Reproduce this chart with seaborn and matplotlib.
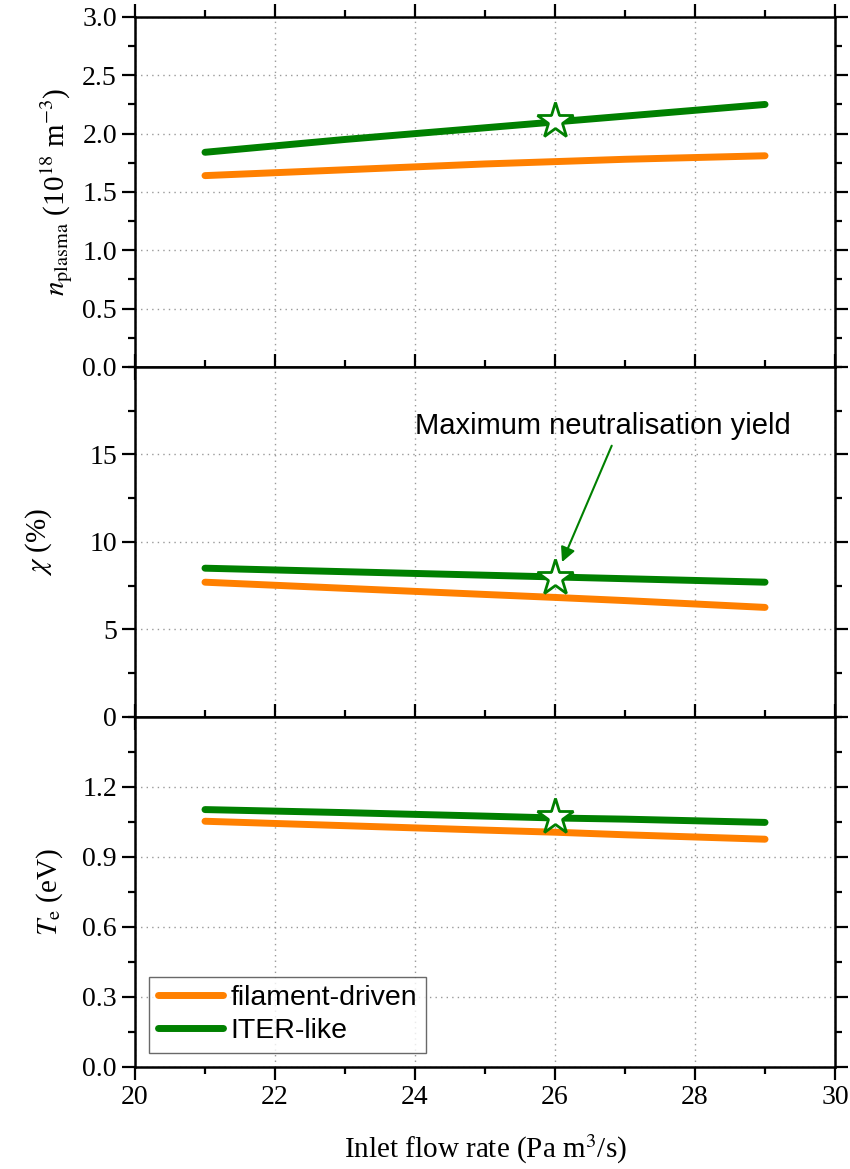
import numpy as np
import pandas as pd
import seaborn as sns
import matplotlib.pyplot as plt

# values
flow = [21, 23, 25, 26, 27, 29]
dens_fil = [1.64, 1.69, 1.74, 1.76, 1.78, 1.81]
dens_iter = [1.84, 1.95, 2.05, 2.10, 2.15, 2.25]
chi_fil = [7.70, 7.35, 7.00, 6.83, 6.65, 6.26]
chi_iter = [8.50, 8.30, 8.10, 8.00, 7.90, 7.70]
te_fil = [1.053, 1.034, 1.015, 1.006, 0.995, 0.976]
te_iter = [1.103, 1.090, 1.075, 1.067, 1.062, 1.048]
sources = ['filament-driven', 'ITER-like']
star_x = 26
star_y = [2.11, 7.95, 1.07]

sns.set_theme(style='ticks')
plt.rcParams['font.family'] = ['Liberation Serif', 'DejaVu Serif']
plt.rcParams['mathtext.fontset'] = 'stix'
plt.rcParams['text.color'] = 'black'
plt.rcParams['axes.labelcolor'] = 'black'

df = pd.DataFrame({
    'flow': flow * 2,
    'source': [sources[0]] * len(flow) + [sources[1]] * len(flow),
    'dens': dens_fil + dens_iter,
    'chi': chi_fil + chi_iter,
    'te': te_fil + te_iter,
})
pal = {'filament-driven': '#FF8000', 'ITER-like': '#008000'}

fig, axs = plt.subplots(3, 1, figsize=(8.5, 11.69), dpi=100, sharex=True)
fig.subplots_adjust(left=0.1588, right=0.9824, bottom=0.0873, top=0.9855, hspace=0)

cols = ['dens', 'chi', 'te']
ylims = [(0, 3.0), (0, 20), (0, 1.5)]
majors = [np.arange(0, 3.01, 0.5), np.arange(0, 16, 5), np.arange(0, 1.21, 0.3)]
minors = [np.arange(0, 3.01, 0.25), np.arange(0, 20.1, 2.5), np.arange(0, 1.51, 0.15)]
labels = ['0.0 0.5 1.0 1.5 2.0 2.5 3.0'.split(), ['0', '5', '10', '15'],
          '0.0 0.3 0.6 0.9 1.2'.split()]
ylabels = [r'$n_{\mathrm{plasma}}$ (10$^{18}$ m$^{-3}$)', r'$\chi$ (%)', r'$T_{\mathrm{e}}$ (eV)']
label_x = [-0.085, -0.115, -0.10]

for i, ax in enumerate(axs):
    sns.lineplot(data=df, x='flow', y=cols[i], hue='source', palette=pal, ax=ax,
                 lw=5, solid_capstyle='round', legend=(i == 2))
    ax.plot(star_x, star_y[i], marker='*', ms=27, mfc='white', mec='#008000', mew=2,
            ls='none', zorder=5)
    ax.set_xlim(20, 30)
    ax.set_ylim(*ylims[i])
    ax.set_yticks(majors[i])
    ax.set_yticklabels(labels[i])
    ax.set_yticks(minors[i], minor=True)
    ax.set_xticks(np.arange(20, 30.1, 2))
    ax.set_xticks(np.arange(20, 30.1, 1), minor=True)
    ax.grid(True, which='major', ls=(0, (1, 3)), color='#999999', lw=1)
    ax.tick_params(which='both', direction='out', top=True, right=True, width=1.6,
                   labelsize=20, colors='black')
    ax.tick_params(which='major', length=9.5)
    ax.tick_params(which='minor', length=5)
    for s in ax.spines.values():
        s.set_linewidth(1.8)
        s.set_color('black')
    ax.set_xlabel('')
    ax.set_ylabel(ylabels[i], fontsize=21)
    ax.yaxis.set_label_coords(label_x[i], 0.5)

axs[2].set_xticklabels(['20', '22', '24', '26', '28', '30'])
axs[2].set_xlabel(r'Inlet flow rate (Pa m$^3$/s)', fontsize=21, labelpad=16)

leg = axs[2].legend(loc='lower left', handlelength=2.3, frameon=True,
                    fancybox=False, edgecolor='#444444', borderaxespad=0.5,
                    prop={'family': 'Liberation Sans', 'size': 20.5}, labelspacing=0.25,
                    borderpad=0.3, handletextpad=0.25)
leg.get_frame().set_linewidth(1)
for t in leg.get_texts():
    t.set_color('black')

axs[1].text(26.69, 16.6, 'Maximum neutralisation yield', ha='center', va='center',
            fontsize=21, family='Liberation Sans', color='black')
axs[1].annotate('', xy=(26.1, 8.85), xytext=(26.81, 15.5),
                arrowprops=dict(arrowstyle='-|>', color='#008000', lw=1.5,
                                mutation_scale=22, shrinkA=0, shrinkB=0))

fig.savefig('out.png', dpi=100)
